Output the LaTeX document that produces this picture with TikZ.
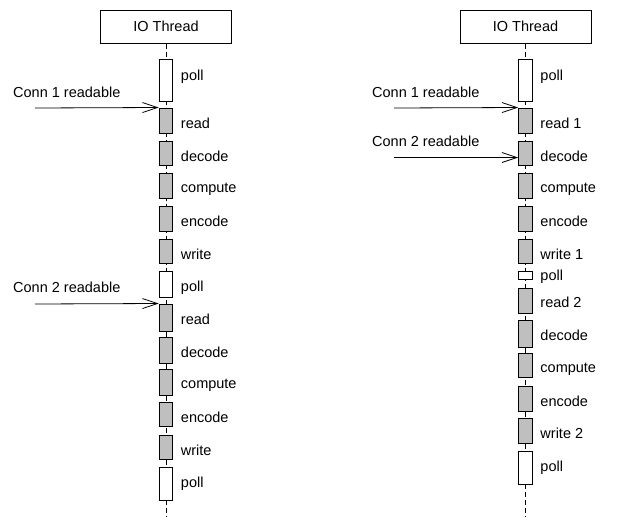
\documentclass[tikz,border=0pt]{standalone}
\usepackage{fontspec}
\setmainfont{Liberation Sans}
\usetikzlibrary{arrows.meta}

\tikzset{
    thread/.style={draw, line width=1pt, minimum width=131pt, minimum height=33pt, inner sep=0pt},
    bar/.style={draw, line width=1pt, minimum width=13.5pt, inner sep=0pt},
    busy/.style={bar, fill=black!25},
    idle/.style={bar, fill=white},
    lifeline/.style={line width=1pt, dash pattern=on 5pt off 3pt},
    event/.style={line width=0.8pt, -{Straight Barb[length=15pt, width=10pt, line width=0.8pt]}},
    lbl/.style={inner sep=0pt, anchor=base west, font=\fontsize{14.5}{17}\selectfont},
}

\begin{document}
\begin{tikzpicture}[x=1pt, y=-1pt]
    \useasboundingbox (0, 0) rectangle (641, 523);

    % one request after the other
    \begin{scope}
        \node[thread, font=\fontsize{14.5}{17}\selectfont] (lt) at (166, 26.5) {IO Thread};
        \coordinate (lend) at (166, 517);
        \draw[lifeline] (lt) -- (lend);
        \foreach \name/\top/\bot/\kind/\txt/\base in {
            l1/59/101/idle/poll/22, l2/108/133/busy/read/21,
            l3/141/165/busy/decode/21, l4/173/198/busy/compute/20,
            l5/206/231/busy/encode/21, l6/239/263/busy/write/21,
            l7/271/297/idle/poll/21, l8/304/331/busy/read/21,
            l9/337/363/busy/decode/21, l10/369/395/busy/compute/20,
            l11/402/426/busy/encode/21, l12/435/459/busy/write/21,
            l13/467/500/idle/poll/21} {
            \node[\kind, minimum height={(\bot-\top)*1pt}] (\name) at (166, {(\top+\bot)/2}) {};
            \node[lbl] at ([xshift=7.5pt, yshift=-\base pt]\name.north east) {\txt};
        }
        \coordinate (la) at (35, 108);
        \coordinate (lb) at (35, 304);
        \draw[event] (la) -- (l2.north west);
        \draw[event] (lb) -- (l8.north west);
        \node[lbl] at (13, 97) {Conn 1 readable};
        \node[lbl] at (13, 292) {Conn 2 readable};
    \end{scope}

    % two requests in one poll round
    \begin{scope}
        \node[thread, font=\fontsize{14.5}{17}\selectfont] (rt) at (525.5, 26.5) {IO Thread};
        \coordinate (rend) at (525.5, 517);
        \draw[lifeline] (rt) -- (rend);
        \foreach \name/\top/\bot/\kind/\txt/\base in {
            r1/59/101/idle/poll/22, r2/108/133/busy/read 1/21,
            r3/141/165/busy/decode/21, r4/173/198/busy/compute/20,
            r5/206/231/busy/encode/21, r6/239/263/busy/write 1/21,
            r7/271/279/idle/poll/10, r8/288/313/busy/read 2/20,
            r9/320/347/busy/decode/21, r10/353/377/busy/compute/20,
            r11/386/411/busy/encode/21, r12/418/443/busy/write 2/21,
            r13/451/484/idle/poll/21} {
            \node[\kind, minimum height={(\bot-\top)*1pt}] (\name) at (525.5, {(\top+\bot)/2}) {};
            \node[lbl] at ([xshift=7.5pt, yshift=-\base pt]\name.north east) {\txt};
        }
        \coordinate (ra) at (394, 108);
        \coordinate (rb) at (394, 157.5);
        \draw[event] (ra) -- (r2.north west);
        \draw[event] (rb) -- (rb -| r3.west);
        \node[lbl] at (372, 97) {Conn 1 readable};
        \node[lbl] at (372, 146) {Conn 2 readable};
    \end{scope}
\end{tikzpicture}
\end{document}
